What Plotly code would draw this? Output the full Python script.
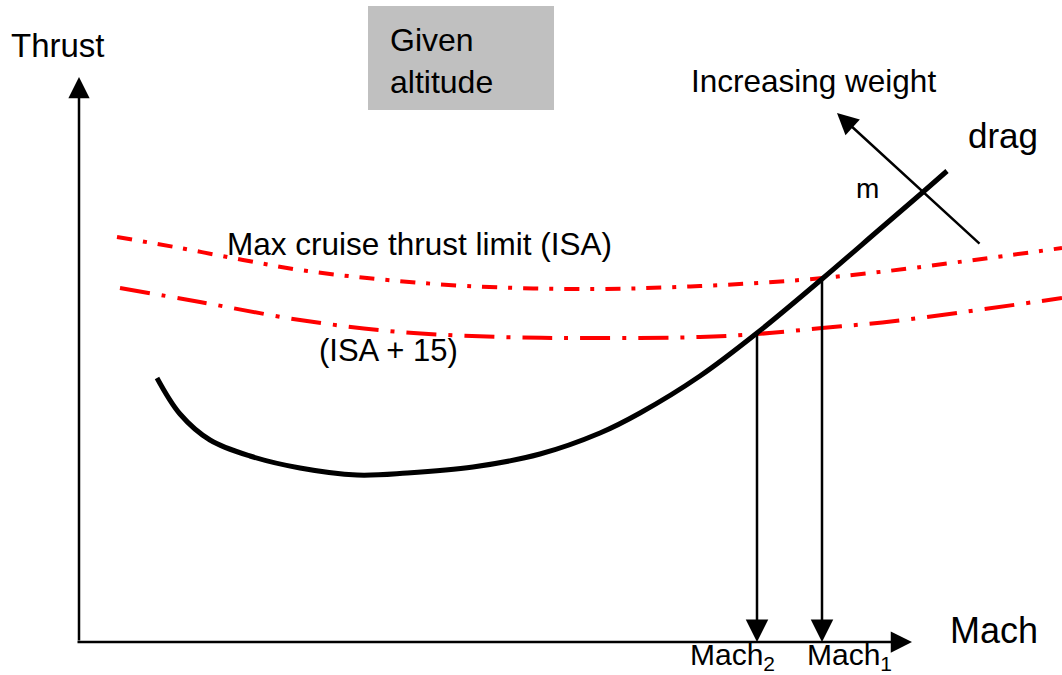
import plotly.graph_objects as go

# Schematic coordinates (arbitrary units: mach -> horizontal, thrust -> vertical)
drag_mach = [157, 180, 210, 250, 300, 357, 407, 473, 540, 600, 640, 700, 757, 822, 880, 923, 947]
drag_thrust = [297, 261, 235, 219, 207, 200, 202, 208, 221, 242, 262, 299, 342, 396, 446, 483, 504]

isa_mach = [117, 180, 243, 300, 367, 467, 593, 700, 800, 888, 1062]
isa_thrust = [438, 427, 415, 405, 397, 389, 386, 389, 395, 404, 427]

isa15_mach = [120, 200, 300, 400, 500, 593, 700, 757, 822, 895, 1062]
isa15_thrust = [387, 373, 355, 343, 338, 337, 338, 341, 347, 354, 377]

axis_origin = (79, 33)
axis_x_end = 912
axis_y_end = 598

mach_points = [757, 822]          # Mach2, Mach1
mach_point_thrust = [342, 396]    # intersection thrust values
mach_point_labels = ["Mach<sub>2</sub>", "Mach<sub>1</sub>"]
mach_label_left = [688, 805]

weight_arrow_tail = (981, 430)
weight_arrow_tip = (837, 562)

box_x = [368, 554]
box_y = [565, 669]

FONT = "Liberation Sans, Arial, sans-serif"

fig = go.Figure()

fig.add_trace(go.Scatter(x=isa_mach, y=isa_thrust, mode="lines",
                         line=dict(color="#FF0000", width=4, dash="15px,11px,4px,11px", shape="spline"),
                         hoverinfo="skip", showlegend=False))
fig.add_trace(go.Scatter(x=isa15_mach, y=isa15_thrust, mode="lines",
                         line=dict(color="#FF0000", width=4, dash="30px,12px,4px,12px", shape="spline"),
                         hoverinfo="skip", showlegend=False))
fig.add_trace(go.Scatter(x=drag_mach, y=drag_thrust, mode="lines",
                         line=dict(color="black", width=5, shape="spline", smoothing=1.0),
                         hoverinfo="skip", showlegend=False))

annotations = []

def arrow(tail, tip, width=2.5, size=1.7):
    annotations.append(dict(x=tip[0], y=tip[1], ax=tail[0], ay=tail[1],
                            xref="x", yref="y", axref="x", ayref="y",
                            text="", showarrow=True, arrowhead=2,
                            arrowsize=size, arrowwidth=width, arrowcolor="black",
                            standoff=0, startstandoff=0))

# axes
arrow(axis_origin, (axis_origin[0], axis_y_end))
arrow((axis_origin[0] - 3, axis_origin[1]), (axis_x_end, axis_origin[1]))
# drop arrows
for m, t in zip(mach_points, mach_point_thrust):
    arrow((m, t), (m, axis_origin[1]), width=2.5, size=1.8)
# weight arrow
arrow(weight_arrow_tail, weight_arrow_tip, width=2.5, size=1.7)

def text(s, x, y, size, xanchor="center", align="center"):
    annotations.append(dict(x=x, y=y, xref="x", yref="y", text=s, showarrow=False,
                            xanchor=xanchor, yanchor="middle", align=align,
                            font=dict(family=FONT, size=size, color="black")))

text("Thrust", 9, 630, 33, xanchor="left")
text("Given<br>altitude", 388, 614, 32, xanchor="left", align="left")
text("Increasing weight", 813, 594, 31.5)
text("drag", 1003, 540, 35)
text("m", 867, 487, 28)
text("Max cruise thrust limit (ISA)", 419, 431, 31.5)
text("(ISA + 15)", 388, 325, 31)
text("Mach", 994, 45, 36)
for xl, lab in zip(mach_label_left, mach_point_labels):
    text(lab, xl, 19, 30, xanchor="left")

fig.update_layout(
    width=1062, height=675,
    margin=dict(l=0, r=0, t=0, b=0),
    paper_bgcolor="white", plot_bgcolor="white",
    xaxis=dict(range=[0, 1062], visible=False, fixedrange=True),
    yaxis=dict(range=[0, 675], visible=False, fixedrange=True),
    shapes=[dict(type="rect", xref="x", yref="y", x0=box_x[0], x1=box_x[1],
                 y0=box_y[0], y1=box_y[1], fillcolor="#C0C0C0", line=dict(width=0),
                 layer="below")],
    annotations=annotations,
)

fig.write_html("out.html", config={"displayModeBar": False},
               post_script="document.body.style.margin='0';document.body.style.overflow='hidden';")
